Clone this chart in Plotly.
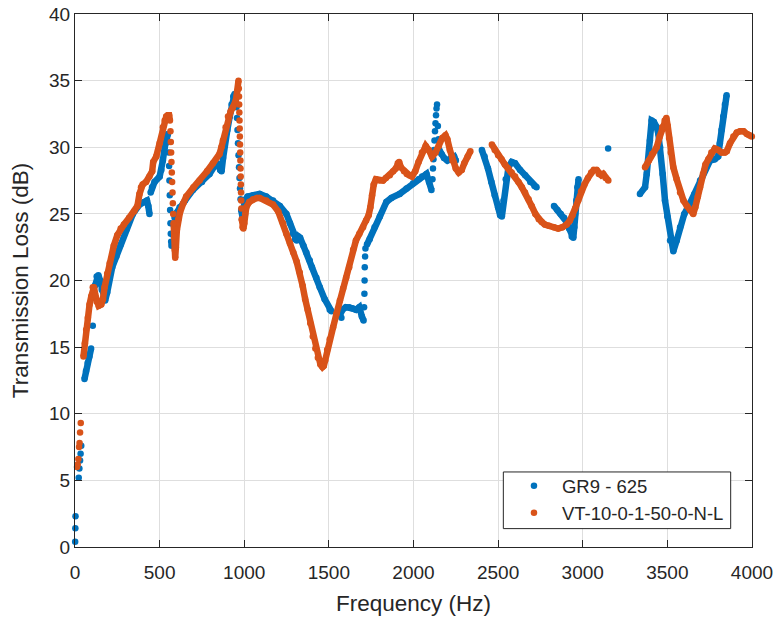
import plotly.graph_objects as go

# ---------------- data ----------------
# GR9 - 625 : continuous parts (None = no data between parts)
gr9_freq = [56, 65, 75, 85, 95, None,
            118, 128, 138, 148, 158, 168, 178, 190, 204, 220, 244, 270, 303, 342, 381, 410, 425, 433, 440, None,
            447, 455, 470, 500, 510, 519, 530, 539, 549, None,
            570, 576, None,
            595, 618, 650, 697, 750, 795, 835, 848, 858, 866, 875, 884, 900, 914, 925, 935, 943, 950, None,
            982, 987, 992, 997, 1002, 1020, 1052, 1091, 1130, 1170, 1210, 1249, 1270, 1288, 1300, 1310, 1320, 1330,
            1350, 1367, 1387, 1400, 1426, 1446, 1475, 1505, 1515, None,
            1565, 1580, 1600, 1620, 1640, 1660, 1680, 1695, 1705, None,
            1725, 1741, 1770, 1801, 1840, 1870, 1918, 1959, 1998, 2030, 2051, 2077, 2092, 2106, None,
            2152, 2165, 2180, 2200, 2220, 2240, 2250, None,
            2404, 2420, 2440, 2460, 2480, 2500, 2512, 2522, 2532, 2545, 2561, 2580, 2600, 2630, 2660, 2690, 2715, 2727, None,
            2830, 2850, 2870, 2890, 2905, 2920, 2935, 2944, 2950, 2955, 2962, 2968, 2975, None,
            3338, 3368, 3378, 3387, 3397, 3407, 3420, 3437, 3447, 3457, 3472, 3486, 3500, 3516, 3535, 3555, 3575,
            3600, 3634, 3660, 3693, 3720, 3752, 3780, 3800, 3810, 3820, 3830, 3840, 3850]
gr9_tl = [12.6, 13.2, 13.8, 14.3, 14.9, None,
          19.6, 20.3, 20.4, 20.0, 19.3, 18.7, 18.5, 19.1, 20.2, 21.0, 21.8, 22.7, 23.8, 25.0, 25.7, 25.9, 26.0, 25.6, 25.0, None,
          26.6, 27.0, 27.4, 27.8, 28.3, 29.0, 30.0, 30.8, 31.0, None,
          22.6, 22.8, None,
          25.0, 25.5, 26.0, 26.8, 27.4, 28.0, 28.8, 28.7, 28.3, 28.2, 29.2, 30.3, 31.3, 32.3, 33.2, 33.8, 34.0, 33.6, None,
          25.3, 24.6, 24.6, 25.4, 26.0, 26.3, 26.4, 26.5, 26.3, 26.0, 25.6, 25.0, 24.3, 23.5, 23.1, 23.0, 23.3, 23.2,
          22.6, 22.1, 21.5, 21.0, 20.2, 19.5, 18.6, 17.8, 17.7, None,
          17.4, 17.8, 18.0, 18.0, 17.9, 17.8, 18.0, 17.3, 17.0, None,
          22.7, 23.1, 24.0, 24.8, 25.9, 26.2, 26.5, 26.9, 27.3, 27.6, 27.8, 28.0, 27.4, 26.8, None,
          29.8, 29.5, 29.2, 29.0, 29.2, 29.3, 29.0, None,
          29.8, 29.3, 28.4, 27.4, 26.4, 25.5, 24.9, 24.8, 26.0, 27.6, 28.5, 28.9, 28.8, 28.3, 27.9, 27.4, 27.1, 27.0, None,
          25.6, 25.3, 25.0, 24.7, 24.4, 23.9, 23.3, 23.2, 24.0, 25.0, 26.0, 27.0, 27.6, None,
          26.5, 27.0, 28.0, 29.0, 30.5, 32.0, 31.9, 31.5, 31.0, 30.0, 28.0, 26.0, 24.8, 23.0, 22.2, 23.0, 24.0,
          25.0, 25.8, 26.5, 27.5, 28.3, 29.0, 29.1, 29.3, 30.3, 31.3, 32.3, 33.2, 33.9]
# GR9 - 625 : isolated samples (steep jumps, low end)
gr9_dot_freq = [1, 2, 3, 22, 26, 30, 33, 37, 105,
                552, 554, 556, 558, 560, 562, 564, 566, 568, 580, 584, 588,
                954, 957, 960, 963, 966, 969, 972, 975, 978,
                1574, 1708, 1710, 1711, 1712, 1714, 1716,
                2112, 2115, 2118, 2121, 2124, 2127, 2130, 2133, 2136, 2139, 2144, 2148, 3150]
gr9_dot_tl = [0.4, 1.4, 2.3, 5.2, 5.9, 6.5, 7.0, 7.6, 16.6,
              30.4, 29.6, 28.6, 27.5, 26.4, 25.3, 24.3, 23.5, 22.9, 23.4, 24.1, 24.7,
              33.0, 32.2, 31.3, 30.3, 29.4, 28.5, 27.7, 26.9, 26.1,
              17.2, 18.0, 19.0, 20.0, 21.0, 21.8, 22.4,
              27.6, 28.4, 29.1, 29.8, 30.5, 31.2, 31.8, 32.4, 32.9, 33.2, 31.6, 30.6, 29.9]

# VT-10-0-1-50-0-N-L : continuous parts
vt_freq = [50, 58, 66, 76, 86, 96, 105, 112, 120, 128, 140, 155, 165, 175, 190, 205, 229, 250, 270, 289, 320, 350,
           369, 381, 390, 400, 420, 440, 456, 462, 480, 500, 519, 530, 539, 548, 556, 561, None,
           583, 586, 589, 592, 596, 602, 610, 620, 640, 657, 700, 736, 780, 815, 854, 865, 874, 890, 904, 920, 933,
           950, 958, 966, None,
           985, 990, 995, 1000, 1005, 1012, 1030, 1052, 1075, 1091, 1130, 1170, 1200, 1229, 1249, 1270, 1290, 1310,
           1328, 1345, 1360, 1375, 1390, 1405, 1420, 1435, 1450, 1462, 1470, 1478, 1490, 1505, 1525, 1545, 1565,
           1584, 1602, 1620, 1643, 1660, 1680, 1702, 1720, 1735, 1745, 1755, 1765, 1778, 1800, 1820, 1837, 1860,
           1880, 1895, 1907, 1915, 1925, 1944, 1960, 1975, 1991, 2010, 2030, 2050, 2072, 2090, 2109, 2130, 2150,
           2170, 2189, 2200, 2215, 2230, 2250, 2267, 2285, 2300, 2320, 2336, None,
           2463, 2480, 2500, 2520, 2540, 2561, 2580, 2600, 2620, 2640, 2659, 2680, 2698, 2720, 2740, 2757, 2776,
           2800, 2830, 2855, 2880, 2905, 2924, 2940, 2955, 2973, 2990, 3010, 3031, 3050, 3065, 3082, 3095, 3110,
           3121, 3135, 3151, None,
           3368, 3390, 3410, 3437, 3455, 3470, 3484, 3494, 3502, 3510, 3520, 3535, 3555, 3575, 3595, 3615, 3634,
           3653, 3665, 3680, 3693, 3710, 3725, 3742, 3760, 3780, 3800, 3820, 3840, 3851, 3870, 3890, 3910, 3930,
           3950, 3970, 3985, 3999]
vt_tl = [14.3, 15.3, 16.3, 17.2, 18.2, 18.8, 19.5, 19.5, 18.9, 18.4, 18.1, 18.2, 18.6, 19.5, 20.5, 21.3, 22.6, 23.4,
         23.9, 24.2, 24.7, 25.2, 25.6, 26.5, 27.0, 27.2, 27.4, 27.8, 28.2, 28.9, 29.3, 30.3, 31.5, 32.0, 32.3, 32.4,
         32.4, 32.0, None,
         24.3, 23.3, 22.3, 21.7, 22.5, 23.8, 24.6, 25.1, 25.8, 26.3, 27.0, 27.5, 28.2, 28.8, 29.5, 30.0, 30.5, 31.5,
         32.3, 32.7, 33.0, 33.5, 34.2, 35.0, None,
         24.6, 24.0, 23.9, 24.3, 25.0, 25.5, 25.9, 26.1, 26.2, 26.2, 26.0, 25.7, 25.2, 24.3, 23.5, 22.8, 22.1, 21.4,
         20.6, 19.6, 18.6, 17.8, 16.8, 15.8, 14.9, 14.2, 13.7, 13.5, 13.6, 14.0, 14.8, 15.6, 16.5, 17.5, 18.5,
         19.4, 20.2, 21.0, 22.3, 23.0, 23.5, 24.0, 24.5, 24.9, 25.5, 26.4, 27.2, 27.6, 27.5, 27.5, 27.7, 27.9,
         28.2, 28.4, 28.8, 28.9, 28.5, 28.2, 28.0, 27.9, 27.8, 28.2, 28.9, 29.6, 30.1, 29.8, 29.3, 29.6, 30.1,
         30.7, 30.9, 30.6, 29.8, 29.0, 28.4, 28.1, 28.3, 28.8, 29.3, 29.7, None,
         30.2, 29.8, 29.4, 29.1, 28.7, 28.4, 28.1, 27.8, 27.4, 27.0, 26.6, 26.1, 25.6, 25.0, 24.6, 24.4, 24.2,
         24.1, 24.0, 23.9, 24.0, 24.2, 24.5, 24.9, 25.4, 26.0, 26.7, 27.2, 27.7, 28.1, 28.3, 28.3, 28.0, 27.9,
         28.0, 27.7, 27.5, None,
         28.5, 29.0, 29.5, 30.0, 30.8, 31.5, 32.0, 32.2, 31.6, 30.7, 29.6, 28.5, 27.6, 26.6, 26.0, 25.6, 25.3,
         25.0, 25.5, 26.3, 27.0, 28.0, 28.7, 29.1, 29.6, 29.9, 29.8, 29.6, 29.6, 29.7, 30.3, 30.8, 31.1, 31.2,
         31.2, 31.0, 30.9, 30.8]
# VT-10-0-1-50-0-N-L : isolated samples
vt_dot_freq = [12, 16, 20, 24, 27, 30, 34,
               564, 566, 568, 570, 572, 574, 576, 578, 580,
               968, 969, 970, 971, 972, 973, 974, 975, 976, 977, 978, 979, 980, 981, 982, 983]
vt_dot_tl = [6.0, 6.2, 6.6, 7.5, 7.8, 8.6, 9.3,
             31.2, 30.4, 29.6, 28.9, 28.1, 27.4, 26.6, 25.8, 25.0,
             34.4, 33.8, 33.2, 32.6, 32.0, 31.4, 30.8, 30.2, 29.6, 29.0, 28.4, 27.8, 27.2, 26.6, 26.0, 25.4]

x_ticks = [0, 500, 1000, 1500, 2000, 2500, 3000, 3500, 4000]
y_ticks = [0, 5, 10, 15, 20, 25, 30, 35, 40]

BLUE = "#0072BD"
ORANGE = "#D95319"
FONT = "Liberation Sans, Arial, Helvetica, sans-serif"
AX = "#262626"
MS = 6.5
LW = 6.5


def pts(f, t):
    xs = [a for a in f if a is not None]
    ys = [b for b in t if b is not None]
    return xs, ys


fig = go.Figure()
for name, color, bf, bt, df, dt in [
    ("GR9 - 625", BLUE, gr9_freq, gr9_tl, gr9_dot_freq, gr9_dot_tl),
    ("VT-10-0-1-50-0-N-L", ORANGE, vt_freq, vt_tl, vt_dot_freq, vt_dot_tl),
]:
    fig.add_trace(go.Scatter(x=bf, y=bt, mode="lines", line=dict(color=color, width=LW),
                             connectgaps=False, showlegend=False, hoverinfo="skip", cliponaxis=False))
    px_, py_ = pts(bf, bt)
    fig.add_trace(go.Scatter(x=px_ + df, y=py_ + dt, mode="markers", name=name,
                             marker=dict(color=color, size=MS, line=dict(width=0)), cliponaxis=False))

axis_common = dict(showline=True, mirror="ticks", linecolor=AX, linewidth=1, ticks="inside", ticklen=7,
                   tickcolor=AX, tickwidth=1, showgrid=True, gridcolor="#dedede", gridwidth=1,
                   zeroline=False, automargin=False,
                   tickfont=dict(family=FONT, size=19, color=AX))
fig.update_xaxes(range=[0, 4000], tickvals=x_ticks, ticktext=[str(v) for v in x_ticks],
                 ticklabelstandoff=8,
                 title=dict(text="Frequency (Hz)", font=dict(family=FONT, size=22.5, color=AX), standoff=13),
                 **axis_common)
fig.update_yaxes(range=[0, 40], tickvals=y_ticks, ticktext=[str(v) for v in y_ticks],
                 title=dict(text="Transmission Loss (dB)", font=dict(family=FONT, size=22.5, color=AX), standoff=14),
                 **axis_common)

# legend frame (white box with dark border, as in the reference)
fig.add_shape(type="rect", xref="paper", yref="paper", x0=0.6327, x1=0.9685, y0=0.0345, y1=0.1408,
              line=dict(color=AX, width=1), fillcolor="white", layer="above")

fig.update_layout(
    width=776, height=617, autosize=False,
    margin=dict(l=75, r=24, t=14, b=70, pad=0),
    paper_bgcolor="white", plot_bgcolor="white",
    font=dict(family=FONT, color=AX),
    legend=dict(x=0.6366, y=0.1496, xanchor="left", yanchor="top", bgcolor="rgba(0,0,0,0)",
                borderwidth=0, font=dict(family=FONT, size=18.5, color=AX), itemwidth=46,
                tracegroupgap=0),
)
# remove the default 8 px page margin so the figure fills the window exactly; no mode bar
fig.write_html("out.html", config={"displayModeBar": False},
               post_script="document.body.style.margin='0';")
